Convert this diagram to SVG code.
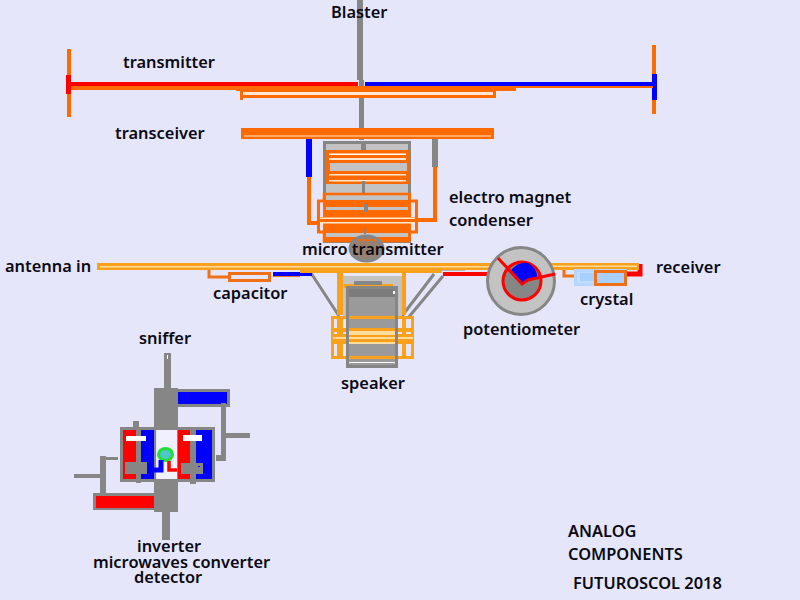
<svg xmlns="http://www.w3.org/2000/svg" width="800" height="600" viewBox="0 0 800 600">
<style>
text{font-family:"Noto Sans","Open Sans","DejaVu Sans",sans-serif;font-size:16.400px;font-weight:600;fill:#0a0a14}
.of{fill:#ff6a00}
.yf{fill:#f9a11b}
.ly{fill:#ffdc9c}
.g{fill:#868686}
.r{fill:#f00}
.b{fill:#00f}
.w{fill:#fff}
.bg{fill:#ffe6d0}
.lg{fill:#c3c3c3}
</style>
<rect width="800" height="600" fill="#e6e6fa"/>
<g id="connectors">
<rect class="g" x="357" y="0" width="6" height="80"/>
<rect class="g" x="359" y="80" width="5" height="60"/>
<path d="M309 136V177" stroke="#00f" stroke-width="6" fill="none"/>
<path d="M309 177V223H325" stroke="#ff6a00" stroke-width="4" fill="none"/>
<path d="M435 138V167" stroke="#868686" stroke-width="6" fill="none"/>
<path d="M435 167V220H412" stroke="#ff6a00" stroke-width="4" fill="none"/>
<path d="M311 273L339 316M434 274L402 316M443 276L408 318" stroke="#868686" stroke-width="3" fill="none"/>
<path d="M209 266V277H229" stroke="#f07018" stroke-width="3" fill="none"/>
<path d="M273 274H312" stroke="#00f" stroke-width="4" fill="none"/>
<path d="M273 276.500H300" stroke="#f07018" stroke-width="1" fill="none"/>
<path d="M443 274H489" stroke="#f00" stroke-width="4" fill="none"/>
<path d="M442 269H465" stroke="#868686" stroke-width="3" fill="none"/>
<path d="M564 267V276H578" stroke="#f07018" stroke-width="3" fill="none"/>
<path d="M627 274H640V264" stroke="#f00" stroke-width="5" fill="none"/>
</g>
<g id="transmitter">
<rect class="of" x="67" y="49" width="4" height="68"/>
<rect class="r" x="66" y="75" width="5" height="19"/>
<rect class="of" x="71" y="85" width="165" height="5"/>
<rect class="r" x="70" y="82" width="288" height="4"/>
<rect class="of" x="236" y="86" width="280" height="5"/>
<rect class="of" x="241" y="90" width="255" height="8"/>
<rect class="bg" x="243" y="92" width="250" height="3"/>
<rect class="of" x="240" y="90" width="3" height="10"/>
<rect class="of" x="652" y="45" width="4" height="69"/>
<rect class="b" x="652" y="74" width="5" height="26"/>
<rect class="of" x="366" y="86" width="287" height="2"/>
<rect class="b" x="365" y="82" width="288" height="4"/>
</g>
<g id="transceiver">
<rect class="of" x="241" y="128" width="253" height="11"/>
<rect class="bg" x="244" y="135.500" width="247" height="1"/>
</g>
<g id="electro-magnet">
<rect x="324.500" y="142.500" width="85" height="99" class="lg" stroke="#868686" stroke-width="3"/>
<rect class="g" x="361" y="141" width="5" height="11"/>
<rect class="g" x="361" y="150" width="24" height="2"/>
<rect class="of" x="326" y="150" width="83" height="34"/>
<rect class="w" x="329" y="153.500" width="77" height="1.500"/>
<rect class="bg" x="329" y="158" width="77" height="2"/>
<rect class="lg" x="330" y="163" width="77" height="8"/>
<rect class="bg" x="329" y="174" width="77" height="1.500"/>
<rect class="bg" x="329" y="180" width="77" height="1.500"/>
<rect class="g" x="362" y="181" width="3" height="13"/>
</g>
<g id="condenser">
<rect class="lg" x="324" y="194" width="85" height="47" stroke="#ff6a00" stroke-width="2.500"/>
<rect x="318.500" y="201" width="98" height="31" fill="#e6e6fa" stroke="#ff6a00" stroke-width="3"/>
<rect class="lg" x="324" y="196" width="85" height="44" fill-opacity="1"/>
<rect class="of" x="323" y="200" width="87" height="7"/>
<rect class="of" x="323" y="210" width="87" height="23"/>
<rect class="of" x="323" y="237" width="87" height="4"/>
<rect class="of" x="323" y="193" width="88" height="2"/>
<rect class="of" x="323" y="193" width="3" height="48"/>
<rect class="of" x="408" y="193" width="3" height="48"/>
<rect class="of" x="318" y="217" width="99" height="6"/>
<rect class="bg" x="320" y="217.500" width="95" height="1.500"/>
<rect class="bg" x="320" y="222" width="95" height="1.500"/>
<rect class="g" x="364" y="204" width="4" height="8"/>
<rect class="g" x="364" y="229" width="2" height="5"/>
</g>
<g id="micro-transmitter">
<ellipse cx="366.500" cy="248.500" rx="16" ry="12" fill="#9a8070" stroke="#868686" stroke-width="4"/>
<path d="M357 240H376" stroke="#ff6a00" stroke-width="1.500"/>
<text x="302" y="255">micro transmitter</text>
</g>
<g id="antenna-in">
<rect class="yf" x="97" y="263" width="400" height="7"/>
<rect class="ly" x="100" y="266" width="395" height="1.500"/>
<rect class="yf" x="300" y="270" width="142" height="3"/>
<rect class="yf" x="547" y="263" width="92" height="7"/>
<rect class="ly" x="552" y="265.500" width="85" height="1.500"/>
</g>
<g id="capacitor">
<rect x="229.500" y="273.500" width="40" height="7" fill="#e6e6fa" stroke="#f07018" stroke-width="3"/>
</g>
<g id="speaker">
<rect class="lg" x="343" y="276" width="59" height="40"/>
<rect class="yf" x="337" y="273" width="6" height="42"/>
<rect class="yf" x="402" y="273" width="4" height="42"/>
<rect class="yf" x="344" y="284" width="49" height="4"/>
<rect class="g" x="354" y="281" width="28" height="4"/>
<rect x="332.500" y="317.500" width="80" height="40" fill="none" stroke="#f9a11b" stroke-width="3"/>
<rect class="yf" x="337" y="316" width="6" height="40"/>
<rect class="yf" x="402" y="316" width="4" height="40"/>
<rect class="yf" x="333" y="328" width="78" height="4"/>
<rect class="yf" x="333" y="334" width="80" height="3"/>
<rect class="ly" x="333" y="337" width="80" height="2"/>
<rect class="yf" x="333" y="339" width="80" height="5"/>
<rect x="348" y="288" width="48" height="78" fill="#9a9a9a"/>
<rect x="348" y="288" width="48" height="9" fill="#7d7d7d"/>
<rect class="w" x="393" y="291" width="2" height="3"/>
<rect class="yf" x="348" y="316" width="48" height="3"/>
<rect class="yf" x="348" y="328" width="48" height="3"/>
<rect class="ly" x="348" y="331" width="48" height="4"/>
<rect class="yf" x="348" y="335" width="48" height="2"/>
<rect class="ly" x="348" y="337" width="48" height="2"/>
<rect class="yf" x="348" y="339" width="48" height="3"/>
<rect class="ly" x="348" y="342" width="48" height="2"/>
<rect class="yf" x="348" y="356" width="48" height="3"/>
<rect class="w" x="349" y="362" width="46" height="1"/>
<rect x="347.500" y="287.500" width="49" height="79" fill="none" stroke="#868686" stroke-width="3"/>
</g>
<g id="potentiometer">
<circle cx="521" cy="281" r="33.500" class="lg" stroke="#868686" stroke-width="3"/>
<circle cx="522" cy="281" r="19" fill="#868686" stroke="#f00" stroke-width="3"/>
<path d="M522 283L511 270Q519 261 528 263Q536 267 538 278Z" fill="#00f"/>
<path d="M498 258L522 284L528 280L555 274" stroke="#f00" stroke-width="3" fill="none"/>
</g>
<g id="crystal">
<rect x="575.500" y="270.500" width="50" height="14" fill="#c4dcff" stroke="#b5d6ff" stroke-width="3"/>
<rect x="580" y="273" width="41" height="8" fill="#a8d0ff"/>
<rect x="595.500" y="271.500" width="30" height="13" fill="#a8d0ff" stroke="#f07018" stroke-width="3"/>
</g>
<g id="sniffer">
<rect class="g" x="164" y="353" width="7" height="36"/>
<rect class="w" x="167" y="355" width="1" height="4"/>
<rect class="g" x="154" y="388" width="24" height="42"/>
<rect class="g" x="176" y="389" width="54" height="18"/>
<rect class="b" x="178" y="392" width="49" height="12"/>
<rect class="g" x="221" y="403" width="5" height="57"/>
<rect class="g" x="216" y="455" width="10" height="6"/>
<rect class="g" x="226" y="433" width="24" height="5"/>
</g>
<g id="inverter">
<rect class="g" x="120" y="427" width="36" height="55"/>
<rect class="r" x="123" y="430" width="13" height="49"/>
<rect class="b" x="140" y="430" width="14" height="49"/>
<rect class="g" x="177" y="427" width="38" height="55"/>
<rect class="r" x="178" y="430" width="12" height="49"/>
<rect class="b" x="196" y="430" width="16" height="49"/>
<rect class="g" x="133" y="421" width="6" height="8"/>
<rect class="g" x="136" y="427" width="5" height="56"/>
<rect class="g" x="190" y="427" width="6" height="57"/>
<rect class="w" x="126" y="436" width="20" height="5"/>
<rect class="w" x="183" y="435" width="19" height="6"/>
<rect class="g" x="125" y="462" width="22" height="12"/>
<rect class="g" x="181" y="463" width="22" height="11"/>
<rect x="198" y="466" width="2" height="1" class="b"/>
<rect x="157" y="430" width="20" height="50" fill="#f0f0ff"/>
<ellipse cx="165.500" cy="454.500" rx="7" ry="6" fill="#4cc8c8" stroke="#22dd33" stroke-width="3"/>
<path d="M161 460V470H154" stroke="#00f" stroke-width="5" fill="none"/>
<path d="M169 461V470H177" stroke="#f00" stroke-width="3.500" fill="none"/>
<rect class="g" x="154" y="479" width="24" height="33"/>
<rect class="g" x="93" y="493" width="62" height="17"/>
<rect class="r" x="96" y="496" width="58" height="12"/>
<rect class="g" x="162" y="511" width="8" height="29"/>
<rect class="g" x="100" y="456" width="6" height="37"/>
<rect class="g" x="104" y="457" width="14" height="3"/>
<rect class="g" x="74" y="474" width="26" height="4"/>
</g>
<g id="labels">
<text x="331" y="18">Blaster</text>
<text x="123" y="68">transmitter</text>
<text x="115" y="139">transceiver</text>
<text x="449" y="203">electro magnet</text>
<text x="449" y="226">condenser</text>
<text x="5" y="272">antenna in</text>
<text x="213" y="299">capacitor</text>
<text x="656" y="273">receiver</text>
<text x="580" y="305">crystal</text>
<text x="463" y="335">potentiometer</text>
<text x="341" y="389">speaker</text>
<text x="139" y="344">sniffer</text>
<text x="137" y="552">inverter</text>
<text x="93" y="568">microwaves converter</text>
<text x="134" y="583">detector</text>
<text x="568" y="537">ANALOG</text>
<text x="568" y="560">COMPONENTS</text>
<text x="573" y="589">FUTUROSCOL 2018</text>
</g>
</svg>
